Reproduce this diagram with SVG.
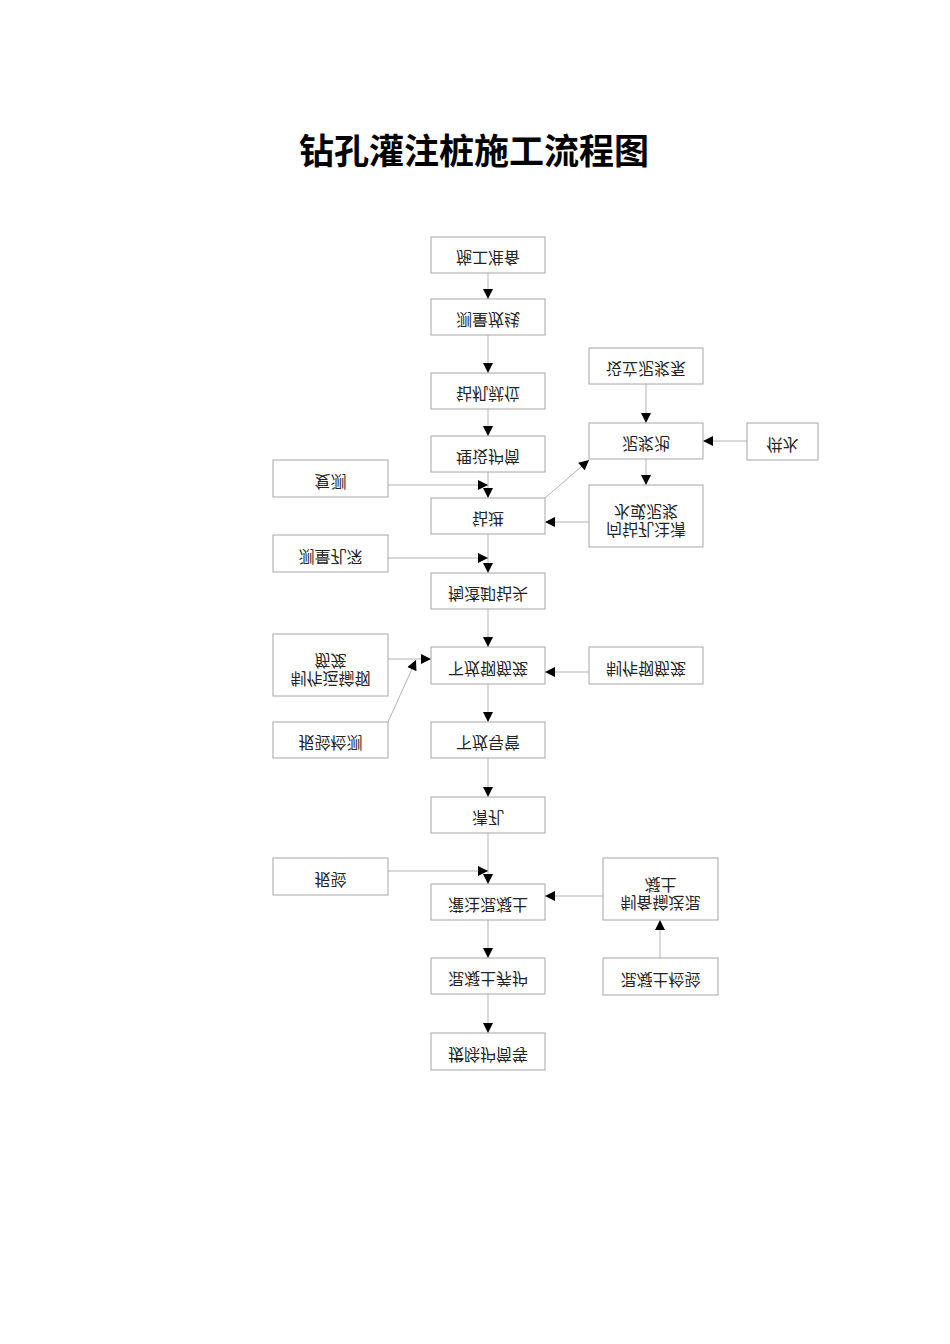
<svg xmlns="http://www.w3.org/2000/svg" width="950" height="1344" viewBox="0 0 950 1344">
<style>
.box{fill:#fff;stroke:#a6a6a6;stroke-width:1}
.t{font-family:"Noto Sans CJK SC","Liberation Sans",sans-serif;font-size:16px;fill:#222;text-anchor:middle}
.title{font-family:"Noto Sans CJK SC","Liberation Sans",sans-serif;font-size:35px;font-weight:bold;fill:#000;text-anchor:middle}
.c{fill:none;stroke:#b3b3b3;stroke-width:1;marker-end:url(#ah)}
</style>
<defs>
<marker id="ah" viewBox="0 0 10 10" refX="10" refY="5" markerWidth="11" markerHeight="10" markerUnits="userSpaceOnUse" orient="auto">
<path d="M0,0 L10,5 L0,10 z" fill="#000"/>
</marker>
</defs>
<rect width="950" height="1344" fill="#fff"/>
<text class="title" x="474" y="164">钻孔灌注桩施工流程图</text>

<g id="connectors">
<path class="c" d="M488,273 V299"/>
<path class="c" d="M488,335 V373"/>
<path class="c" d="M488,409 V436"/>
<path class="c" d="M488,472 V498"/>
<path class="c" d="M488,534 V573"/>
<path class="c" d="M488,609 V647"/>
<path class="c" d="M488,684 V722"/>
<path class="c" d="M488,758 V797"/>
<path class="c" d="M488,833 V884"/>
<path class="c" d="M488,920 V958"/>
<path class="c" d="M488,994 V1033"/>
<path class="c" d="M646,384 V423"/>
<path class="c" d="M747,441 H703"/>
<path class="c" d="M646,459 V485"/>
<path class="c" d="M545,498 L589,460"/>
<path class="c" d="M589,522 H545"/>
<path class="c" d="M388,485 H488"/>
<path class="c" d="M388,558 H488"/>
<path class="c" d="M388,659 H431"/>
<path class="c" d="M388,722 L416,660"/>
<path class="c" d="M589,672 H545"/>
<path class="c" d="M388,871 H488"/>
<path class="c" d="M603,896 H545"/>
<path class="c" d="M660,958 V920"/>
</g>

<g id="n1"><rect class="box" x="431" y="237" width="114" height="36"/><text class="t" x="488" y="264" transform="matrix(1 0 0 -1 0 516)">施工准备</text></g>
<g id="n2"><rect class="box" x="431" y="299" width="114" height="36"/><text class="t" x="488" y="326" transform="matrix(1 0 0 -1 0 640)">测量放线</text></g>
<g id="n3"><rect class="box" x="431" y="373" width="114" height="36"/><text class="t" x="488" y="400" transform="matrix(1 0 0 -1 0 788)">钻机就位</text></g>
<g id="n4"><rect class="box" x="431" y="436" width="114" height="36"/><text class="t" x="488" y="463" transform="matrix(1 0 0 -1 0 914)">埋设护筒</text></g>
<g id="n5"><rect class="box" x="431" y="498" width="114" height="36"/><text class="t" x="488" y="525" transform="matrix(1 0 0 -1 0 1038)">钻进</text></g>
<g id="n6"><rect class="box" x="431" y="573" width="114" height="36"/><text class="t" x="488" y="600" transform="matrix(1 0 0 -1 0 1188)">掏渣卸钻头</text></g>
<g id="n7"><rect class="box" x="431" y="647" width="114" height="37"/><text class="t" x="488" y="674.5" transform="matrix(1 0 0 -1 0 1337)">下放钢筋笼</text></g>
<g id="n8"><rect class="box" x="431" y="722" width="114" height="36"/><text class="t" x="488" y="749" transform="matrix(1 0 0 -1 0 1486)">下放导管</text></g>
<g id="n9"><rect class="box" x="431" y="797" width="114" height="36"/><text class="t" x="488" y="824" transform="matrix(1 0 0 -1 0 1636)">清孔</text></g>
<g id="n10"><rect class="box" x="431" y="884" width="114" height="36"/><text class="t" x="488" y="911" transform="matrix(1 0 0 -1 0 1810)">灌注混凝土</text></g>
<g id="n11"><rect class="box" x="431" y="958" width="114" height="36"/><text class="t" x="488" y="985" transform="matrix(1 0 0 -1 0 1958)">混凝土养护</text></g>
<g id="n12"><rect class="box" x="431" y="1033" width="114" height="37"/><text class="t" x="488" y="1060.5" transform="matrix(1 0 0 -1 0 2109)">拔除护筒等</text></g>

<g id="r1"><rect class="box" x="589" y="348" width="114" height="36"/><text class="t" x="646" y="375" transform="matrix(1 0 0 -1 0 738)">设立泥浆泵</text></g>
<g id="r2"><rect class="box" x="589" y="423" width="114" height="36"/><text class="t" x="646" y="450" transform="matrix(1 0 0 -1 0 888)">泥浆池</text></g>
<g id="r3"><rect class="box" x="747" y="423" width="71" height="37"/><text class="t" x="782.5" y="450.5" transform="matrix(1 0 0 -1 0 889)">供水</text></g>
<g id="r4"><rect class="box" x="589" y="485" width="114" height="62"/><text class="t" x="646" y="536" transform="matrix(1 0 0 -1 0 1060)">向钻孔注清</text><text class="t" x="646" y="518" transform="matrix(1 0 0 -1 0 1024)">水或泥浆</text></g>
<g id="r5"><rect class="box" x="589" y="647" width="114" height="37"/><text class="t" x="646" y="674.5" transform="matrix(1 0 0 -1 0 1337)">制作钢筋笼</text></g>
<g id="r6"><rect class="box" x="603" y="858" width="115" height="62"/><text class="t" x="660.5" y="909" transform="matrix(1 0 0 -1 0 1806)">制备输送混</text><text class="t" x="660.5" y="891" transform="matrix(1 0 0 -1 0 1770)">凝土</text></g>
<g id="r7"><rect class="box" x="603" y="958" width="115" height="37"/><text class="t" x="660.5" y="985.5" transform="matrix(1 0 0 -1 0 1959)">混凝土检验</text></g>

<g id="l1"><rect class="box" x="273" y="460" width="115" height="37"/><text class="t" x="330.5" y="487.5" transform="matrix(1 0 0 -1 0 963)">复测</text></g>
<g id="l2"><rect class="box" x="273" y="535" width="115" height="37"/><text class="t" x="330.5" y="562.5" transform="matrix(1 0 0 -1 0 1113)">测量孔深</text></g>
<g id="l3"><rect class="box" x="273" y="634" width="115" height="62"/><text class="t" x="330.5" y="685" transform="matrix(1 0 0 -1 0 1358)">制作运输钢</text><text class="t" x="330.5" y="667" transform="matrix(1 0 0 -1 0 1322)">筋笼</text></g>
<g id="l4"><rect class="box" x="273" y="722" width="115" height="36"/><text class="t" x="330.5" y="749" transform="matrix(1 0 0 -1 0 1486)">报验检测</text></g>
<g id="l5"><rect class="box" x="273" y="858" width="115" height="37"/><text class="t" x="330.5" y="885.5" transform="matrix(1 0 0 -1 0 1759)">报验</text></g>
</svg>
